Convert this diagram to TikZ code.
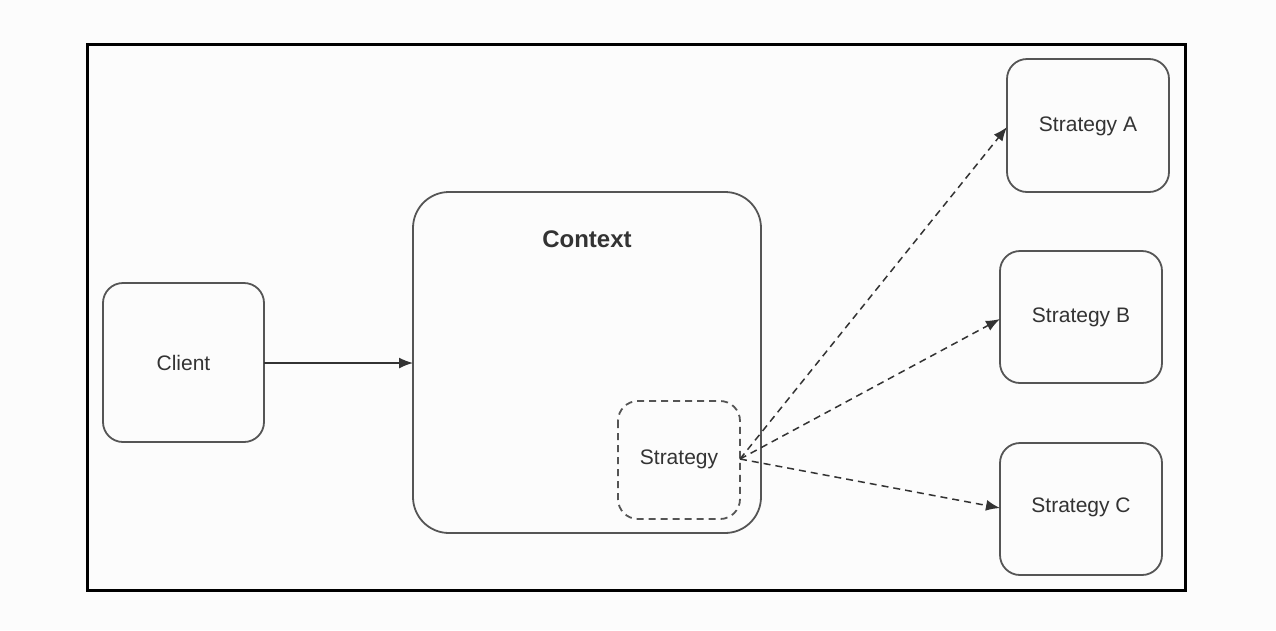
\documentclass[tikz,border=0pt]{standalone}
\usepackage{fontspec}
\setmainfont{Liberation Sans}
\usetikzlibrary{arrows.meta}
\definecolor{ink}{HTML}{333333}
\definecolor{edge}{HTML}{555555}
\definecolor{paper}{HTML}{FCFCFC}
\begin{document}
\begin{tikzpicture}[x=1pt,y=-1pt,
  box/.style={draw=edge,line width=1.8pt,rounded corners=#1,inner sep=0pt},
  box/.default=20pt,
  lbl/.style={text=ink,font=\fontsize{21}{24}\selectfont},
  tip/.style={-{Latex[length=14pt,width=11pt]}},
  link/.style={draw=ink,line width=1.5pt,tip},
  dlink/.style={draw=ink,line width=1.5pt,dash pattern=on 7pt off 5pt,tip}]
  % page and frame
  \fill[paper] (0,0) rectangle (1276,630);
  \useasboundingbox (0,0) rectangle (1276,630);
  \draw[line width=3pt] (87,44) rectangle (1185,590);

  % boxes
  \draw[box] (103,283) rectangle (264,442);
  \node[lbl] (client) at (183.5,362.5) {Client};
  \coordinate (clientR) at (264,363);

  \draw[box=36pt] (413,192) rectangle (761,533);
  \node[text=ink,font=\fontsize{24}{28}\selectfont\bfseries] (context) at (587,239) {Context};
  \coordinate (contextL) at (413,363);

  \draw[box,dash pattern=on 7pt off 5pt] (618,401) rectangle (740,519);
  \node[lbl] (strategy) at (679,459) {Strategy};
  \coordinate (strategyR) at (740,459);

  \draw[box] (1007,59) rectangle (1169,192);
  \node[lbl] (sa) at (1088,126) {Strategy A};
  \coordinate (saL) at (1007,127);

  \draw[box] (1000,251) rectangle (1162,383);
  \node[lbl] (sb) at (1081,317) {Strategy B};
  \coordinate (sbL) at (1000,319);

  \draw[box] (1000,443) rectangle (1162,575);
  \node[lbl] (sc) at (1081,507) {Strategy C};
  \coordinate (scL) at (1000,508);

  % connectors
  \draw[link] (clientR) -- (contextL);
  \draw[dlink] (strategyR) -- (saL);
  \draw[dlink] (strategyR) -- (sbL);
  \draw[dlink] (strategyR) -- (scL);
\end{tikzpicture}
\end{document}
